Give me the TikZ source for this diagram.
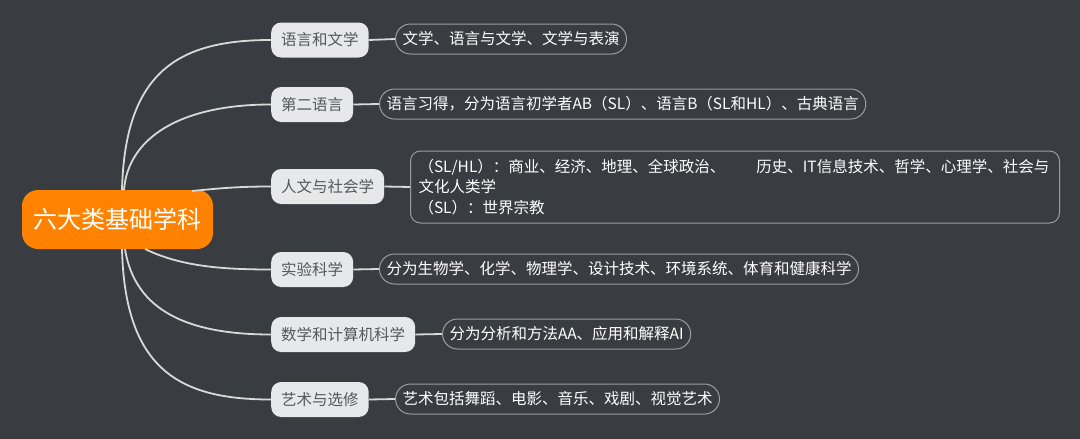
\documentclass[tikz,border=0pt]{standalone}
\usepackage{fontspec}
\setmainfont{Noto Sans CJK SC}
\definecolor{bgc}{HTML}{393C41}
\definecolor{rootc}{HTML}{FF8300}
\definecolor{branchfill}{HTML}{E7E8EA}
\definecolor{branchtext}{HTML}{55575A}
\definecolor{detailborder}{HTML}{9A9CA0}
\definecolor{linkc}{HTML}{D9D9D9}
\tikzset{
  rootbox/.style={fill=rootc, text=white, rounded corners=16pt, minimum width=191pt, minimum height=59pt, font=\fontsize{24}{28}\selectfont, inner sep=0pt},
  branchbox/.style={fill=branchfill, text=branchtext, rounded corners=10pt, minimum height=35pt, inner xsep=10pt, inner ysep=0pt, anchor=west, font=\fontsize{15.5}{19}\selectfont},
  detailbox/.style={draw=detailborder, line width=1pt, text=white, rounded corners=15pt, minimum height=30pt, inner xsep=7pt, inner ysep=0pt, anchor=west, font=\fontsize{15.5}{19}\selectfont},
  link/.style={draw=linkc, line width=1.8pt},
}
\begin{document}
\begin{tikzpicture}[x=1pt, y=-1pt]
\fill[bgc] (0,0) rectangle (1080,439);
\useasboundingbox (0,0) rectangle (1080,439);

\node[rootbox] (root) at (117.5,219.5) {六大类基础学科};

\node[branchbox] (b1) at (271,40) {语言和文学};
\node[branchbox] (b2) at (271,104.5) {第二语言};
\node[branchbox] (b3) at (271,186.5) {人文与社会学};
\node[branchbox] (b4) at (271,269.5) {实验科学};
\node[branchbox] (b5) at (271,334.5) {数学和计算机科学};
\node[branchbox] (b6) at (271,399.5) {艺术与选修};

\node[detailbox] (d1) at (395,39) {文学、语言与文学、文学与表演};
\node[detailbox] (d2) at (379,104) {语言习得，分为语言初学者AB（SL）、语言B（SL和HL）、古典语言};
\node[draw=detailborder, line width=1pt, text=white, rounded corners=10pt, anchor=west, minimum width=649pt, minimum height=72pt, text width=633pt, align=left, inner xsep=8pt, inner ysep=0pt, font=\fontsize{15.5}{20.5}\selectfont] (d3) at (410,187)
  {（SL/HL）：商业、经济、地理、全球政治、\hspace{2em}历史、IT信息技术、哲学、心理学、社会与\\文化人类学\\（SL）：世界宗教};
\node[detailbox] (d4) at (379,269) {分为生物学、化学、物理学、设计技术、环境系统、体育和健康科学};
\node[detailbox] (d5) at (442,334) {分为分析和方法AA、应用和解释AI};
\node[detailbox] (d6) at (395,399) {艺术包括舞蹈、电影、音乐、戏剧、视觉艺术};

\coordinate (r1) at (122,190);
\coordinate (r2) at (124,190);
\coordinate (r3) at (192,191);
\coordinate (r4) at (145,249);
\coordinate (r5) at (125,249);
\coordinate (r6) at (122,249);

\draw[link] (r1) .. controls (125,70) and (180,40) .. (b1.west);
\draw[link] (r2) .. controls (128,138) and (180,104.5) .. (b2.west);
\draw[link] (r3) .. controls (222,188) and (240,186.5) .. (b3.west);
\draw[link] (r4) .. controls (180,266) and (220,269.5) .. (b4.west);
\draw[link] (r5) .. controls (135,312) and (190,334.5) .. (b5.west);
\draw[link] (r6) .. controls (125,370) and (180,399.5) .. (b6.west);

\draw[link] (b1.east) -- (d1.west);
\draw[link] (b2.east) -- (d2.west);
\draw[link] (b3.east) -- (d3.west);
\draw[link] (b4.east) -- (d4.west);
\draw[link] (b5.east) -- (d5.west);
\draw[link] (b6.east) -- (d6.west);
\end{tikzpicture}
\end{document}
